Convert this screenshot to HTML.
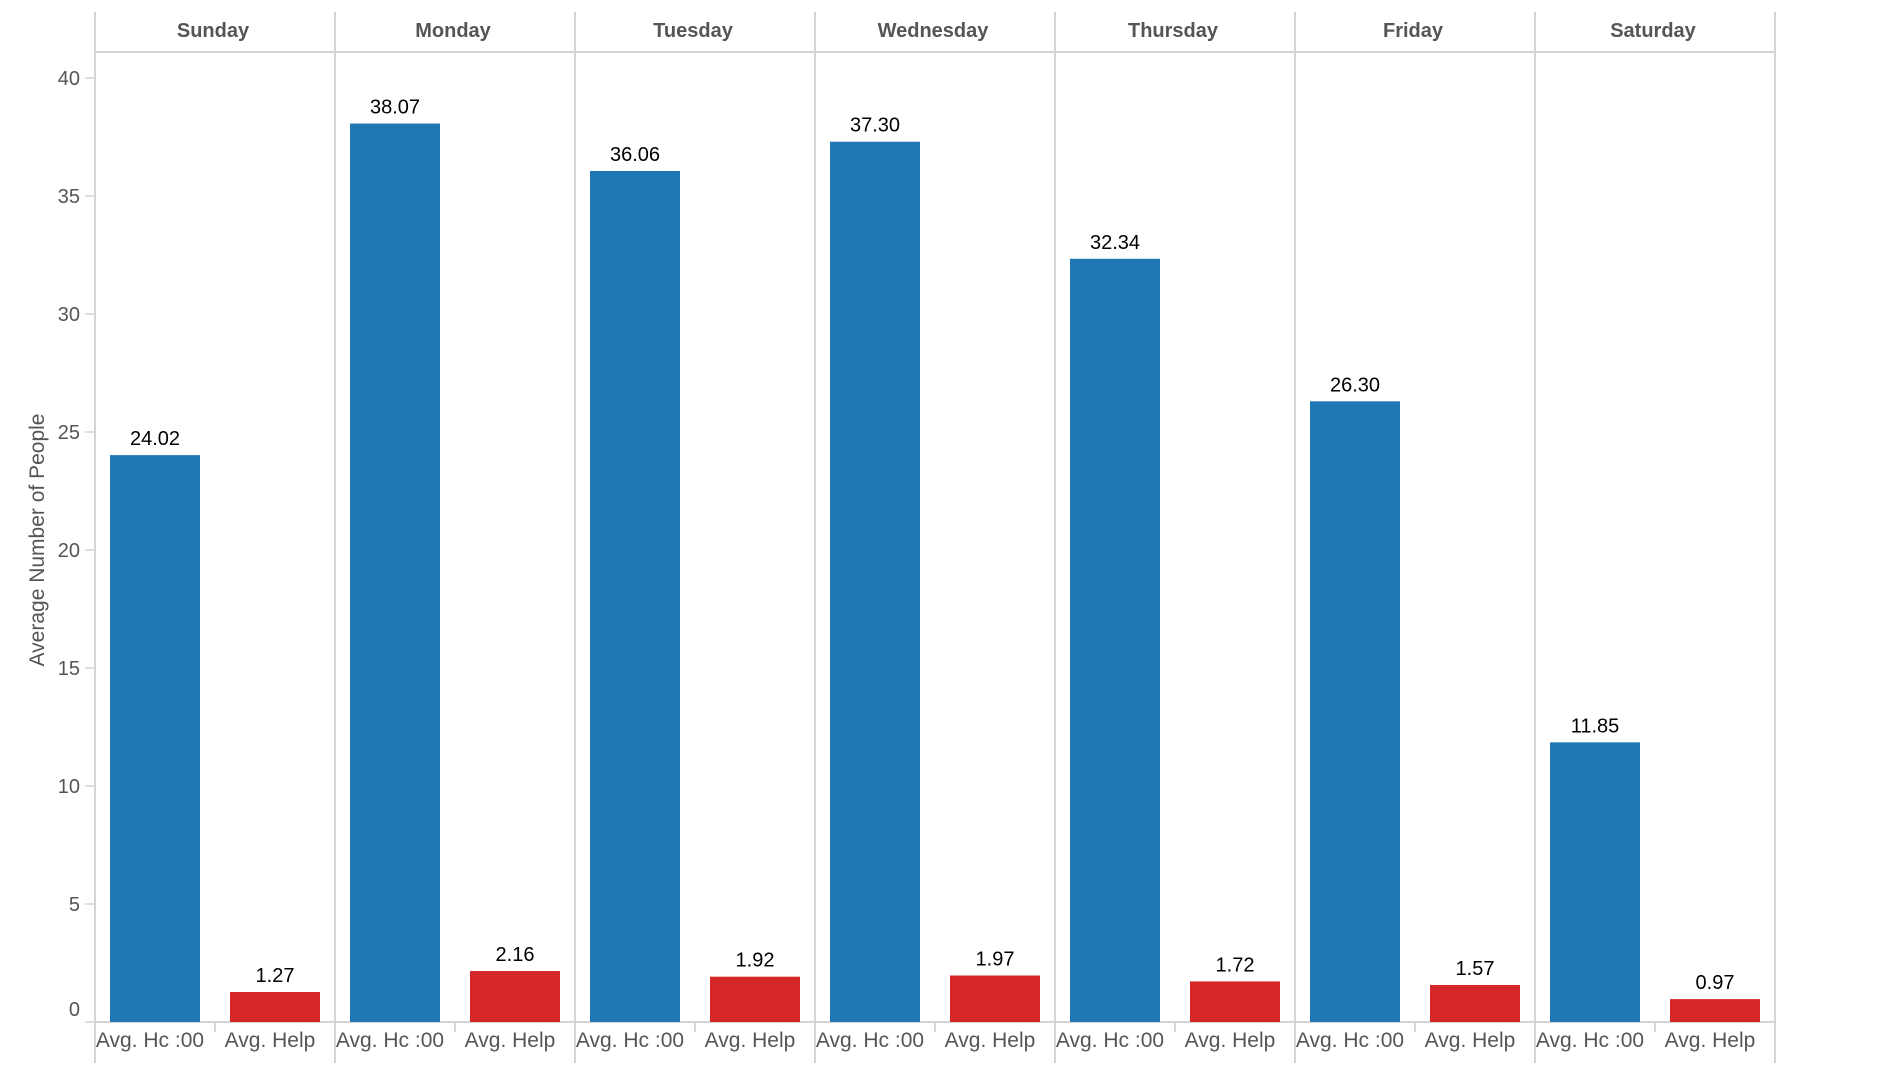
<!DOCTYPE html>
<html><head><meta charset="utf-8"><style>
body{margin:0;background:#fff;font-family:"Liberation Sans",Arial,sans-serif}
svg text{font-family:"Liberation Sans",Arial,sans-serif}
</style></head><body>
<svg id="c" width="1898" height="1076"></svg>
<script>
const days=["Sunday","Monday","Tuesday","Wednesday","Thursday","Friday","Saturday"];
const measures=["Avg. Hc :00","Avg. Help"];
const hcValues=[24.02,38.07,36.06,37.30,32.34,26.30,11.85];
const helpValues=[1.27,2.16,1.92,1.97,1.72,1.57,0.97];
const yTicks=[0,5,10,15,20,25,30,35,40];
const colors=["#1f77b4","#d62728"];
const NS="http://www.w3.org/2000/svg";
const svg=document.getElementById('c');
const X0=95,PW=240,BASE=1022,TOP40=78,TOP=12,HEAD=52,BOT=1063;
const y=v=>BASE-(BASE-TOP40)*v/40;
function mk(t,a,txt){const e=document.createElementNS(NS,t);for(const k in a)e.setAttribute(k,a[k]);if(txt!==undefined)e.textContent=txt;svg.appendChild(e);return e;}
let e=mk('line',{x1:X0,x2:X0+PW*7,y1:HEAD,y2:HEAD,stroke:'#d4d4d4','stroke-width':2});

e=mk('line',{x1:X0,x2:X0+PW*7,y1:BASE,y2:BASE,stroke:'#d4d4d4','stroke-width':2});

for(let i=0;i<=7;i++){
  e=mk('line',{x1:X0+PW*i,x2:X0+PW*i,y1:TOP,y2:BOT,stroke:'#d4d4d4','stroke-width':2});
  
}
yTicks.forEach(t=>{
  e=mk('line',{x1:85,x2:X0,y1:y(t),y2:y(t),stroke:'#d4d4d4','stroke-width':1.5});
  
  e=mk('text',{x:80,y:y(t)+(t===0?-6:7),'text-anchor':'end','font-size':20,fill:'#555'},t);
  
});
e=mk('text',{x:44,y:540,'text-anchor':'middle','font-size':21,fill:'#555',transform:'rotate(-90 44 540)'},'Average Number of People');

days.forEach((d,i)=>{
  const px=X0+PW*i;
  e=mk('text',{x:px+PW/2-2,y:37,'text-anchor':'middle','font-size':20,'font-weight':'bold',fill:'#555'},d);
  
  e=mk('line',{x1:px+120,x2:px+120,y1:BASE,y2:BASE+10,stroke:'#d4d4d4','stroke-width':2});
  
  [hcValues[i],helpValues[i]].forEach((v,j)=>{
    const bx=px+15+j*120;
    e=mk('rect',{x:bx,y:y(v),width:90,height:BASE-y(v),fill:colors[j]});
    
    e=mk('text',{x:bx+45,y:y(v)-10,'text-anchor':'middle','font-size':20,fill:'#000'},v.toFixed(2));
    
    e=mk('text',{x:px+55+j*120,y:1047,'text-anchor':'middle','font-size':21,fill:'#555'},measures[j]);
    
  });
});
</script>
</body></html>
